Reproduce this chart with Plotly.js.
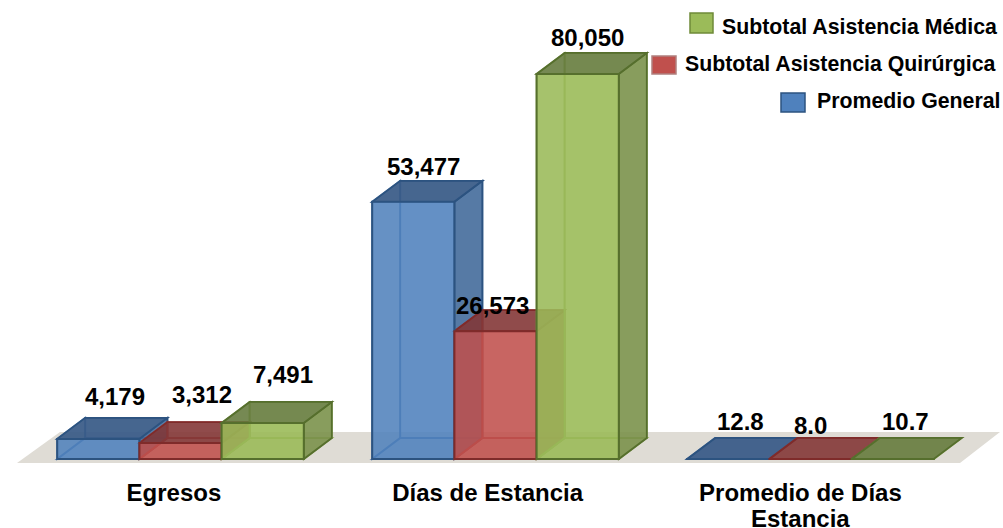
<!DOCTYPE html>
<html>
<head>
<meta charset="utf-8">
<script src="https://cdn.plot.ly/plotly-3.0.1.min.js"></script>
<style>html,body{margin:0;padding:0;background:#fff;overflow:hidden}#chart{width:1003px;height:528px}</style>
</head>
<body>
<div id="chart"></div>
<script>
// ---- data ----
const categories = ["Egresos", "Días de Estancia", "Promedio de Días<br>Estancia"];
const promedioGeneral = [4179, 53477, 12.8];
const asistenciaQuirurgica = [3312, 26573, 8.0];
const asistenciaMedica = [7491, 80050, 10.7];
const seriesNames = ["Promedio General", "Subtotal Asistencia Quirúrgica", "Subtotal Asistencia Médica"];
const labelDecimals = [0, 0, 1];

// ---- layout constants ----
const W = 1003, H = 528, plotBottom = 470;
const groupPx = 315, g0Px = 180.5, unitPx = 0.00481, basePx = 459;
const xRange = [-g0Px / groupPx, (W - g0Px) / groupPx];
const yRange = [-(plotBottom - basePx) / unitPx, basePx / unitPx];
const depthX = 28 / groupPx, depthY = 21 / unitPx;
const bargap = 0.217, slot = (1 - bargap) / 3;
const palette = [
  {front:'rgba(79,129,189,0.86)', top:'rgba(56,90,135,0.92)', side:'rgba(62,102,150,0.85)', inner:'rgba(60,105,160,0.8)', edge:'#2c5380', back:'rgba(79,129,189,0.18)'},
  {front:'rgba(192,80,77,0.86)', top:'rgba(130,55,55,0.88)', side:'rgba(150,62,60,0.85)', inner:'rgba(165,60,58,0.8)', edge:'#7f2b2a', back:'rgba(192,80,77,0.18)'},
  {front:'rgba(155,187,89,0.88)', top:'rgba(100,122,60,0.88)', side:'rgba(122,145,75,0.88)', inner:'rgba(135,165,75,0.8)', edge:'#566f2d', back:'rgba(155,187,89,0.2)'}
];
const allSeries = [promedioGeneral, asistenciaQuirurgica, asistenciaMedica];

// ---- 3D faces drawn through the data axes ----
const shapes = [];
function poly(pts, fill, line, layer) {
  const path = pts.map((p, i) => (i ? 'L' : 'M') + p[0] + ',' + p[1]).join(' ') + ' Z';
  shapes.push({type:'path', xref:'x', yref:'y', path, fillcolor:fill, layer:layer || 'below',
    line:{color:line || 'rgba(0,0,0,0)', width:line ? 1.8 : 0}});
}
const floorLow = -4 / unitPx, floorHigh = 27 / unitPx;
poly([[-163.5/groupPx, floorLow], [(960-g0Px)/groupPx, floorLow], [(1000-g0Px)/groupPx, floorHigh], [(60-g0Px)/groupPx, floorHigh]], '#dfdcd5');

categories.forEach((c, g) => {
  allSeries.forEach((vals, s) => {
    const v = vals[g], col = palette[s];
    const x0 = g - 1.5 * slot + s * slot, x1 = x0 + slot;
    const dx = depthX, dy = depthY;
    // floor of the box
    poly([[x0,0],[x1,0],[x1+dx,dy],[x0+dx,dy]], col.back, col.inner);
    // back face
    if (v > 1000) poly([[x0+dx,dy],[x1+dx,dy],[x1+dx,v+dy],[x0+dx,v+dy]], col.back, col.inner);
    // right side
    if (v > 1000) poly([[x1,0],[x1+dx,dy],[x1+dx,v+dy],[x1,v]], col.side, col.edge);
    // left side, inner
    if (v > 1000) poly([[x0,0],[x0+dx,dy],[x0+dx,v+dy],[x0,v]], 'rgba(0,0,0,0.05)', col.inner);
    // top
    poly([[x0,v],[x1,v],[x1+dx,v+dy],[x0+dx,v+dy]], col.top, col.edge);
  });
});

// ---- legend (right aligned, as in the reference) ----
const px = x => x / W, py = y => (plotBottom - y) / plotBottom;
const legendRows = [
  {s:2, box:[690,713,13,33], right:999, y:27},
  {s:1, box:[652,676,56,74], right:997.5, y:64},
  {s:0, box:[781,805,93,112], right:1002, y:101}
];
const legendFill = ['#4f81bd', '#c0504d', '#9bbb59'];
const legendEdge = ['#2c5380', '#b0807f', '#6f8a38'];
legendRows.forEach(r => {
  shapes.push({type:'rect', xref:'paper', yref:'paper', x0:px(r.box[0]), x1:px(r.box[1]), y0:py(r.box[2]), y1:py(r.box[3]),
    fillcolor:legendFill[r.s], line:{color:legendEdge[r.s], width:1.5}, layer:'above'});
});
const font = "'Liberation Sans', Arial, sans-serif";
const annotations = legendRows.map(r => ({
  xref:'paper', yref:'paper', x:px(r.right), y:py(r.y), xanchor:'right', yanchor:'middle',
  text:'<b>' + seriesNames[r.s] + '</b>', showarrow:false, font:{family:font, size:21.3, color:'#000'}
}));

// ---- value labels ----
const nudge = [
  [[17,42],[21,49],[20,48]],
  [[10,35],[-3,26],[10,36]],
  [[12,37],[0,33],[13,37]]
];
categories.forEach((c, g) => {
  allSeries.forEach((vals, s) => {
    const d = labelDecimals[g];
    annotations.push({
      x: g - 1.5 * slot + (s + 0.5) * slot, y: vals[g], xref:'x', yref:'y',
      xshift: nudge[g][s][0], yshift: nudge[g][s][1], xanchor:'center', yanchor:'middle', showarrow:false,
      text: '<b>' + vals[g].toLocaleString('en-US', {minimumFractionDigits:d, maximumFractionDigits:d}) + '</b>',
      font:{family:font, size:24, color:'#000'}
    });
  });
});

// ---- category labels: first line as axis tick label, the wrapped line set tighter ----
const tickPos = [-0.021, 0.975, 1.968];
const tickLines = categories.map(c => c.split('<br>'));
tickLines.forEach((lines, g) => {
  if (lines[1]) annotations.push({
    x: tickPos[g], xref:'x', yref:'paper', y: py(518), xanchor:'center', yanchor:'middle', showarrow:false,
    text:'<b>' + lines[1] + '</b>', font:{family:font, size:24, color:'#000'}
  });
});

// ---- bars: front faces ----
const traces = allSeries.map((vals, s) => ({
  type:'bar', name:seriesNames[s], x:[0,1,2], y:vals,
  marker:{color:palette[s].front, line:{color:palette[s].edge, width:2}},
  hovertemplate:'%{y}<extra>' + seriesNames[s] + '</extra>'
}));

const layout = {
  width:W, height:H, paper_bgcolor:'#fff', plot_bgcolor:'rgba(0,0,0,0)',
  margin:{l:0, r:0, t:0, b:H - plotBottom, pad:0},
  barmode:'group', bargap, bargroupgap:0, showlegend:false,
  xaxis:{type:'linear', range:xRange, tickmode:'array', tickvals:tickPos, ticktext:tickLines.map(l=>'<b>'+l[0]+'</b>'),
    ticklabelstandoff:6, showgrid:false, zeroline:false, showline:false, ticks:'', tickfont:{family:font, size:24, color:'#000'}, automargin:false},
  yaxis:{range:yRange, showgrid:false, zeroline:false, showline:false, showticklabels:false, ticks:'', automargin:false},
  shapes, annotations
};
Plotly.newPlot('chart', traces, layout, {displayModeBar:false, responsive:false});
</script>
</body>
</html>
